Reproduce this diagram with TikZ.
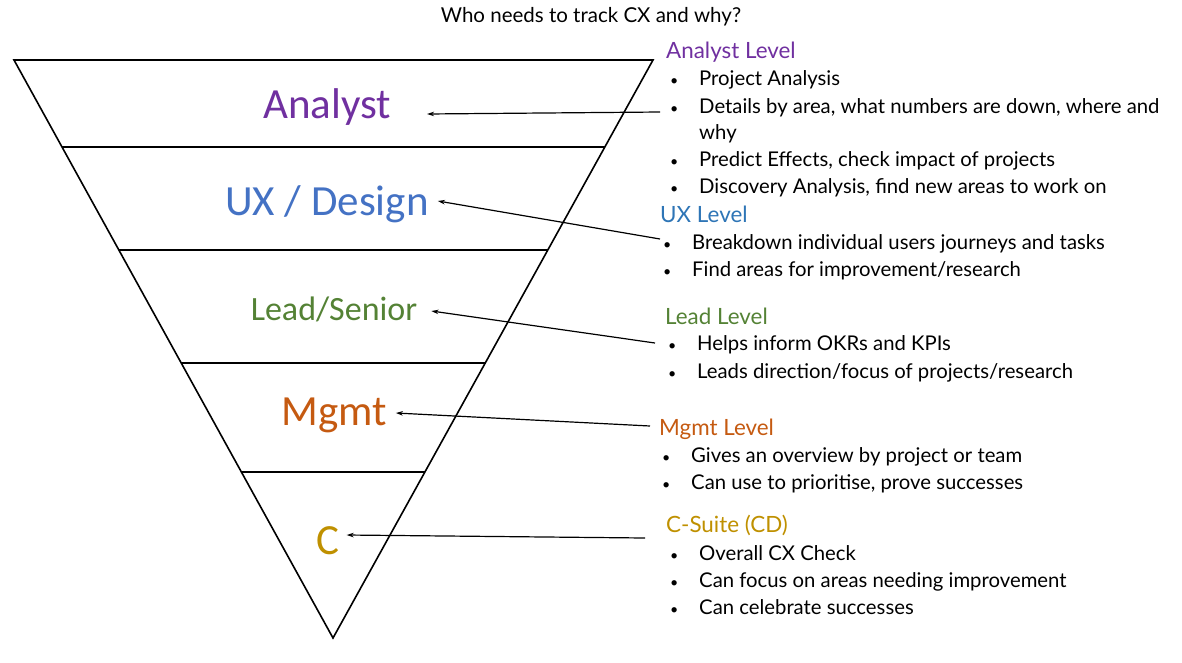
\documentclass[tikz,border=0pt]{standalone}
\usepackage{fontspec}
\setmainfont{Lato}
\newfontfamily\calib{Carlito}
\usepackage{tikz}
\usetikzlibrary{arrows.meta,calc}
\definecolor{anapurple}{HTML}{7030A0}
\definecolor{uxblue}{HTML}{4472C4}
\definecolor{uxdark}{HTML}{2E75B6}
\definecolor{leadgreen}{HTML}{548235}
\definecolor{mgmtorange}{HTML}{C55A11}
\definecolor{cgold}{HTML}{BF9000}
\newcommand{\bul}[1]{\makebox[29pt][l]{\scalebox{0.7}{\textbullet}}#1}
\tikzset{
  tier/.style={inner sep=0pt,font=\calib\fontsize{43}{48}\selectfont},
  lvl/.style={anchor=west,inner sep=0pt,font=\fontsize{22.4}{26}\selectfont,text height=20pt,text depth=4pt},
  item/.style={anchor=west,inner sep=0pt,font=\fontsize{20.3}{24}\selectfont,text height=19pt,text depth=4pt},
  pointer/.style={-{Stealth[length=7pt,width=4.5pt]},line width=1.2pt},
  funnel/.style={line width=1.6pt},
}

\begin{document}
\begin{tikzpicture}[x=1pt,y=-1pt]
  \useasboundingbox (0,0) rectangle (1182,662);
  \node[font=\fontsize{20.5}{24}\selectfont] (title) at (591,17) {Who needs to track CX and why?};

  % funnel
  \coordinate (tl) at (14,60);
  \coordinate (tr) at (653,60);
  \coordinate (tip) at (333,638);
  \draw[funnel] (tl) -- (tr) -- (tip) -- cycle;
  \foreach \y in {147,250,363,472}
    \draw[funnel] ($(tl)!{(\y-60)/578}!(tip)$) -- ($(tr)!{(\y-60)/578}!(tip)$);

  \node[tier,text=anapurple] (analyst) at (327,107) {Analyst};
  \node[tier,text=uxblue] (ux) at (327,204) {UX / Design};
  \node[tier,text=leadgreen,font=\calib\fontsize{34}{38}\selectfont] (lead) at (334,309) {Lead/Senior};
  \node[tier,text=mgmtorange] (mgmt) at (334,415) {Mgmt};
  \node[tier,text=cgold] (csuite) at (328,541) {C};

  % right column
  \node[lvl,text=anapurple] (anaH) at (666,50) {Analyst Level};
  \node[item] (ana1) at (670,78) {\bul{Project Analysis}};
  \node[item] (ana2) at (670,106) {\bul{Details by area, what numbers are down, where and}};
  \node[item] (ana2b) at (699,132) {why};
  \node[item] (ana3) at (670,159) {\bul{Predict Effects, check impact of projects}};
  \node[item] (ana4) at (670,186) {\bul{Discovery Analysis, find new areas to work on}};

  \node[lvl,text=uxdark] (uxH) at (660,214) {UX Level};
  \node[item] (ux1) at (663,242) {\bul{Breakdown individual users journeys and tasks}};
  \node[item] (ux2) at (663,269) {\bul{Find areas for improvement/research}};

  \node[lvl,text=leadgreen] (leadH) at (665,316) {Lead Level};
  \node[item] (lead1) at (668,343) {\bul{Helps inform OKRs and KPIs}};
  \node[item] (lead2) at (668,371) {\bul{Leads direction/focus of projects/research}};

  \node[lvl,text=mgmtorange] (mgmtH) at (659,427) {Mgmt Level};
  \node[item] (mgmt1) at (662,455) {\bul{Gives an overview by project or team}};
  \node[item] (mgmt2) at (662,482) {\bul{Can use to prioritise, prove successes}};

  \node[lvl,text=cgold] (cH) at (666,524) {C-Suite (CD)};
  \node[item] (c1) at (670,553) {\bul{Overall CX Check}};
  \node[item] (c2) at (670,580) {\bul{Can focus on areas needing improvement}};
  \node[item] (c3) at (670,607) {\bul{Can celebrate successes}};

  % pointers
  \draw[pointer] ([shift={(-10,6)}]ana2.west) -- ([shift={(36,7)}]analyst.east);
  \draw[pointer] ([shift={(-3,-3)}]ux1.west) -- ([shift={(9,-3)}]ux.east);
  \draw[pointer] ([shift={(-13,0)}]lead1.west) -- ([shift={(14,2)}]lead.east);
  \draw[pointer] ([shift={(-9,-1)}]mgmtH.west) -- ([shift={(9,-2)}]mgmt.east);
  \draw[pointer] ([shift={(-21,14)}]cH.west) -- ([shift={(7,-6)}]csuite.east);
\end{tikzpicture}
\end{document}
